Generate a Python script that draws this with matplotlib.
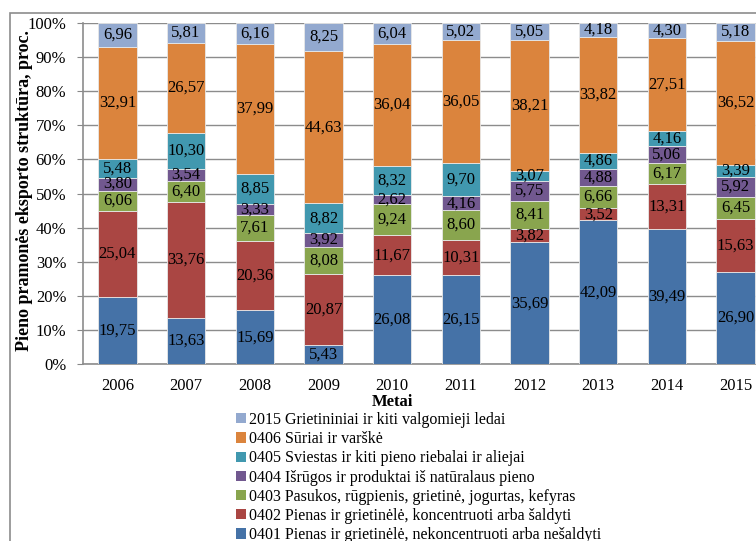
import numpy as np
import matplotlib
matplotlib.use("Agg")
import matplotlib.pyplot as plt
from matplotlib.patches import Rectangle, Patch

plt.rcParams['font.family'] = ['Liberation Serif', 'DejaVu Serif']

# data (shares, %)
years = ['2006', '2007', '2008', '2009', '2010', '2011', '2012', '2013', '2014', '2015']
s0401 = [19.75, 13.63, 15.69, 5.43, 26.08, 26.15, 35.69, 42.09, 39.49, 26.90]
s0402 = [25.04, 33.76, 20.36, 20.87, 11.67, 10.31, 3.82, 3.52, 13.31, 15.63]
s0403 = [6.06, 6.40, 7.61, 8.08, 9.24, 8.60, 8.41, 6.66, 6.17, 6.45]
s0404 = [3.80, 3.54, 3.33, 3.92, 2.62, 4.16, 5.75, 4.88, 5.06, 5.92]
s0405 = [5.48, 10.30, 8.85, 8.82, 8.32, 9.70, 3.07, 4.86, 4.16, 3.39]
s0406 = [32.91, 26.57, 37.99, 44.63, 36.04, 36.05, 38.21, 33.82, 27.51, 36.52]
s2105 = [6.96, 5.81, 6.16, 8.25, 6.04, 5.02, 5.05, 4.18, 4.30, 5.18]

series = [s0401, s0402, s0403, s0404, s0405, s0406, s2105]
labels = ['0401 Pienas ir grietinėlė, nekoncentruoti arba nešaldyti',
          '0402 Pienas ir grietinėlė, koncentruoti arba šaldyti',
          '0403 Pasukos, rūgpienis, grietinė, jogurtas, kefyras',
          '0404 Išrūgos ir produktai iš natūralaus pieno',
          '0405 Sviestas ir kiti pieno riebalai ir aliejai',
          '0406 Sūriai ir varškė',
          '2015 Grietininiai ir kiti valgomieji ledai']
colors = ['#4572A7', '#AA4643', '#89A54E', '#71588F', '#4198AF', '#DB843D', '#93A9CF']

fig = plt.figure(figsize=(7.56, 5.41), dpi=100)
# axes runs past the right edge, like the cropped original
ax = fig.add_axes([83/756, 1-364/541, 687/756, 341/541])

x = np.arange(len(years))
bottom = np.zeros(len(years))
for vals, c in zip(series, colors):
    vals = np.array(vals)
    ax.bar(x, vals, 0.56, bottom=bottom, color=c, edgecolor='#e8e8e8', linewidth=0.6, zorder=3)
    for xi, b, v in zip(x, bottom, vals):
        ax.text(xi, b + v/2, f'{v:.2f}'.replace('.', ','), ha='center', va='center',
                fontsize=12, color='black', zorder=4)
    bottom += vals

ax.set_xlim(-0.5, len(years) - 0.5)
ax.set_ylim(0, 100)
ax.set_yticks(np.arange(0, 101, 10))
ax.set_yticklabels([f'{v}%' for v in range(0, 101, 10)])
ax.set_xticks(x)
ax.set_xticklabels(years)
ax.tick_params(axis='y', labelsize=12, length=4, color='#888888', pad=8)
ax.tick_params(axis='x', labelsize=12, length=0, pad=10)
ax.yaxis.grid(True, color='#8c8c8c', linewidth=1.0, zorder=0)
ax.set_axisbelow(True)
for s in ['top', 'right']:
    ax.spines[s].set_visible(False)
for s in ['left', 'bottom']:
    ax.spines[s].set_color('#8c8c8c')
    ax.spines[s].set_linewidth(1.2)

ax.set_ylabel('Pieno pramonės eksporto struktūra, proc.', fontsize=13, fontweight='bold')
ax.yaxis.set_label_coords(-0.073, 0.51)
ax.set_xlabel('Metai', fontsize=12, fontweight='bold', va='center')
ax.xaxis.set_label_coords(0.45, -0.111)

handles = [Patch(facecolor=c, edgecolor='none') for c in colors][::-1]
fig.legend(handles, labels[::-1], loc='upper left', bbox_to_anchor=(228/756, 1-404/541),
           frameon=False, fontsize=11.5, handlelength=0.6, handleheight=0.6,
           handletextpad=0.2, labelspacing=0.2, borderpad=0)

# outer chart frame (cropped at right and bottom)
fig.patches.append(Rectangle((10/756, -0.1), 1.5, 1.1 - 13/541, transform=fig.transFigure,
                             fill=False, edgecolor='#8c8c8c', linewidth=1.2))

plt.savefig('out.png', dpi=100)
